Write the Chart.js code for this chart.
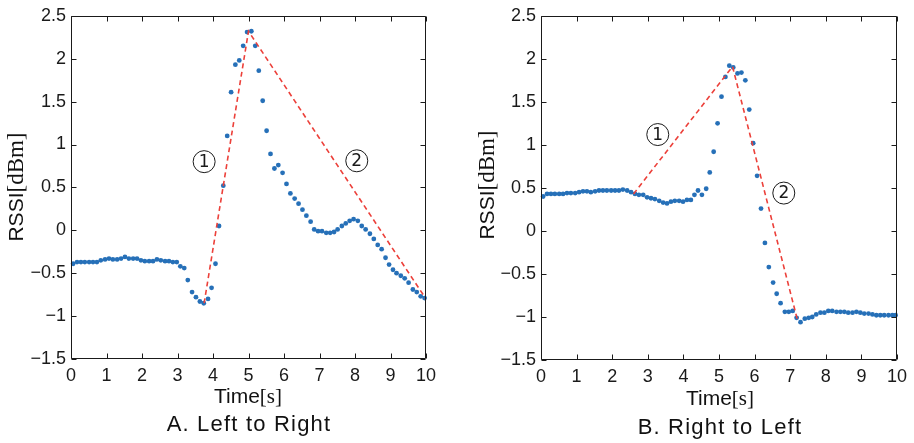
<!DOCTYPE html>
<html>
<head>
<meta charset="utf-8">
<script src="https://cdn.jsdelivr.net/npm/chart.js@4/dist/chart.umd.min.js"></script>
<style>
  html, body { margin: 0; padding: 0; background: #fff; }
  #wrap { position: relative; width: 914px; height: 443px; overflow: hidden; }
  canvas { position: absolute; top: 0; }
  .lbl { position: absolute; white-space: nowrap; color: #111; text-align: center; }
  .sans { font-family: 'Liberation Sans', Arial, sans-serif; }
  .serif { font-family: 'Liberation Serif', 'Times New Roman', serif; }
  .cap { font-family: 'Liberation Sans', Arial, sans-serif; font-size: 22px; letter-spacing: 1.2px; line-height: 22px; width: 300px; }
  .xt { font-size: 21px; line-height: 21px; width: 200px; }
  .yt { font-size: 21px; line-height: 24px; height: 24px; width: 200px; transform: rotate(-90deg); transform-origin: 50% 50%; }
</style>
</head>
<body>
<div id="wrap">
  <canvas id="cLeft" width="457" height="443" style="left:0px"></canvas>
  <canvas id="cRight" width="457" height="443" style="left:457px"></canvas>

  <div class="lbl yt" style="left:-84px; top:175px;"><span class="sans">RSSI</span><span class="serif" style="font-size:23px">[dBm]</span></div>
  <div class="lbl xt" style="left:148px; top:385px;"><span class="sans">Time</span><span class="serif">[s]</span></div>
  <div class="lbl cap" style="left:99px; top:413px;">A. Left to Right</div>

  <div class="lbl yt" style="left:387px; top:173px;"><span class="sans">RSSI</span><span class="serif" style="font-size:23px">[dBm]</span></div>
  <div class="lbl xt" style="left:620px; top:387px;"><span class="sans">Time</span><span class="serif">[s]</span></div>
  <div class="lbl cap" style="left:570px; top:416px;">B. Right to Left</div>
</div>
<script>
// ---- A. walking left to right ----
const leftTime = [0.06,0.17,0.28,0.39,0.51,0.62,0.73,0.84,0.96,1.07,
  1.18,1.30,1.41,1.52,1.63,1.75,1.86,1.97,2.08,2.20,
  2.31,2.42,2.53,2.65,2.76,2.87,2.98,3.08,3.19,3.29,
  3.41,3.52,3.63,3.74,3.86,3.96,4.07,4.17,4.29,4.40,
  4.51,4.63,4.74,4.85,4.96,5.08,5.19,5.29,5.40,5.51,
  5.62,5.73,5.84,5.96,6.07,6.18,6.30,6.41,6.52,6.63,
  6.75,6.85,6.96,7.07,7.19,7.30,7.41,7.51,7.63,7.74,
  7.85,7.96,8.08,8.19,8.30,8.42,8.53,8.64,8.75,8.86,
  8.96,9.07,9.17,9.29,9.40,9.51,9.63,9.74,9.85,9.96];
const leftRssi = [-0.39,-0.37,-0.37,-0.37,-0.37,-0.37,-0.37,-0.35,-0.34,-0.33,
  -0.34,-0.34,-0.33,-0.31,-0.33,-0.33,-0.33,-0.35,-0.36,-0.36,
  -0.36,-0.34,-0.35,-0.36,-0.36,-0.37,-0.37,-0.42,-0.44,-0.58,
  -0.72,-0.78,-0.83,-0.85,-0.80,-0.67,-0.39,0.05,0.52,1.10,
  1.61,1.93,1.98,2.15,2.31,2.32,2.15,1.86,1.51,1.16,
  0.89,0.72,0.76,0.67,0.54,0.43,0.37,0.31,0.24,0.17,
  0.10,0.01,-0.01,-0.01,-0.03,-0.03,-0.02,0.01,0.05,0.08,
  0.11,0.13,0.11,0.05,0.01,-0.04,-0.10,-0.17,-0.22,-0.32,
  -0.40,-0.46,-0.50,-0.53,-0.56,-0.61,-0.69,-0.72,-0.77,-0.79];
const leftTrendTime = [3.75, 5.0, 10.0];
const leftTrendRssi = [-0.85, 2.32, -0.80];
const leftTagTime = [3.75, 8.05];
const leftTagRssi = [0.80, 0.81];

// ---- B. walking right to left ----
const rightTime = [0.06,0.17,0.28,0.39,0.51,0.62,0.73,0.84,0.96,1.07,
  1.18,1.29,1.40,1.52,1.63,1.74,1.85,1.97,2.08,2.19,
  2.30,2.42,2.53,2.64,2.75,2.87,2.98,3.09,3.20,3.32,
  3.43,3.54,3.65,3.76,3.88,3.99,4.10,4.21,4.31,4.41,
  4.52,4.64,4.74,4.85,4.96,5.07,5.18,5.29,5.40,5.52,
  5.63,5.74,5.85,5.96,6.07,6.18,6.29,6.40,6.52,6.62,
  6.73,6.85,6.96,7.07,7.18,7.29,7.41,7.52,7.62,7.73,
  7.85,7.96,8.07,8.18,8.30,8.41,8.52,8.63,8.75,8.86,
  8.97,9.08,9.20,9.31,9.42,9.53,9.64,9.76,9.87,9.96];
const rightRssi = [0.40,0.43,0.43,0.43,0.43,0.43,0.44,0.44,0.44,0.45,
  0.46,0.46,0.45,0.46,0.47,0.47,0.47,0.47,0.47,0.47,
  0.48,0.47,0.45,0.43,0.42,0.42,0.39,0.38,0.37,0.35,
  0.33,0.32,0.34,0.35,0.35,0.34,0.36,0.36,0.42,0.47,
  0.42,0.49,0.68,0.92,1.25,1.56,1.79,1.92,1.90,1.83,
  1.84,1.75,1.41,1.02,0.64,0.26,-0.14,-0.42,-0.60,-0.73,
  -0.84,-0.94,-0.94,-0.93,-1.01,-1.06,-1.02,-1.01,-1.00,-0.97,
  -0.95,-0.95,-0.93,-0.93,-0.94,-0.94,-0.94,-0.95,-0.95,-0.94,
  -0.95,-0.96,-0.96,-0.97,-0.98,-0.98,-0.98,-0.98,-0.98,-0.98];
const rightTrendTime = [2.60, 5.38, 7.20];
const rightTrendRssi = [0.43, 1.91, -1.03];
const rightTagTime = [3.28, 6.82];
const rightTagRssi = [1.12, 0.44];

const tagText = ['1', '2'];
const xTickRange = [0, 10, 1];
const yTickRange = [-1.5, 2.5, 0.5];

const DOT = 'rgb(38,112,184)';
const TREND = 'rgb(236,64,58)';
const INK = '#1a1a1a';

Chart.defaults.font.family = "'Liberation Sans', Arial, sans-serif";
Chart.defaults.font.size = 18;
Chart.defaults.color = INK;

const zip = (xs, ys) => xs.map((x, i) => ({ x, y: ys[i] }));

// box around the plot with inward ticks on all four sides
const framePlugin = {
  id: 'frame',
  afterDatasetsDraw(chart) {
    const { ctx, chartArea: a, scales: { x, y } } = chart;
    const L = Math.round(a.left) + 0.5, R = Math.round(a.right) - 0.5;
    const T = Math.round(a.top) + 0.5, B = Math.round(a.bottom) - 0.5;
    const len = 5;
    ctx.save();
    ctx.strokeStyle = INK;
    ctx.lineWidth = 1;
    ctx.beginPath();
    ctx.rect(L, T, R - L, B - T);
    x.ticks.forEach(t => {
      const px = Math.round(x.getPixelForValue(t.value)) + 0.5;
      ctx.moveTo(px, B); ctx.lineTo(px, B - len);
      ctx.moveTo(px, T); ctx.lineTo(px, T + len);
    });
    y.ticks.forEach(t => {
      const py = Math.round(y.getPixelForValue(t.value)) + 0.5;
      ctx.moveTo(L, py); ctx.lineTo(L + len, py);
      ctx.moveTo(R, py); ctx.lineTo(R - len, py);
    });
    ctx.stroke();
    ctx.restore();
  }
};

// circled segment numbers
const tagPlugin = {
  id: 'tags',
  afterDraw(chart, args, opts) {
    const { ctx, scales: { x, y } } = chart;
    ctx.save();
    opts.xs.forEach((tx, i) => {
      const cx = x.getPixelForValue(tx), cy = y.getPixelForValue(opts.ys[i]);
      ctx.beginPath();
      ctx.arc(cx, cy, 11, 0, Math.PI * 2);
      ctx.strokeStyle = INK;
      ctx.lineWidth = 1;
      ctx.stroke();
      ctx.fillStyle = INK;
      ctx.font = "17px 'DejaVu Sans', sans-serif";
      ctx.textAlign = 'center';
      ctx.textBaseline = 'middle';
      ctx.fillText(opts.labels[i], cx, cy + 1);
    });
    ctx.restore();
  }
};

const fmtTick = v => {
  const s = String(Math.abs(Math.round(v * 10) / 10));
  return v < 0 ? '\u2212' + s : s;
};

function makeChart(id, times, rssi, trendT, trendR, tagT, tagR, box) {
  return new Chart(document.getElementById(id), {
    type: 'scatter',
    data: {
      datasets: [
        {
          data: zip(trendT, trendR),
          showLine: true,
          borderColor: TREND,
          borderWidth: 1.6,
          borderDash: [5, 3.5],
          pointRadius: 0,
          fill: false,
          order: 1
        },
        {
          data: zip(times, rssi),
          showLine: false,
          pointRadius: 2.4,
          pointBorderWidth: 0,
          backgroundColor: DOT,
          borderColor: DOT,
          clip: false,
          order: 2
        }
      ]
    },
    options: {
      responsive: false,
      animation: false,
      events: [],
      layout: { padding: { left: 0, top: box.top, right: box.right, bottom: 0 } },
      plugins: {
        legend: { display: false },
        tooltip: { enabled: false },
        tags: { xs: tagT, ys: tagR, labels: tagText }
      },
      scales: {
        x: {
          type: 'linear',
          min: xTickRange[0], max: xTickRange[1],
          grid: { display: false, drawTicks: false },
          border: { display: false },
          ticks: { stepSize: xTickRange[2], padding: 6, font: { size: 18 }, maxRotation: 0 },
          afterFit: s => { s.height = box.xh; }
        },
        y: {
          type: 'linear',
          min: yTickRange[0], max: yTickRange[1],
          grid: { display: false, drawTicks: false },
          border: { display: false },
          ticks: { stepSize: yTickRange[2], padding: 5, font: { size: 18 }, callback: fmtTick },
          afterFit: s => { s.width = box.yw; }
        }
      }
    },
    plugins: [framePlugin, tagPlugin]
  });
}

makeChart('cLeft', leftTime, leftRssi, leftTrendTime, leftTrendRssi, leftTagTime, leftTagRssi,
  { top: 13, right: 31, yw: 71, xh: 84 });
makeChart('cRight', rightTime, rightRssi, rightTrendTime, rightTrendRssi, rightTagTime, rightTagRssi,
  { top: 14, right: 17, yw: 84, xh: 83 });
</script>
</body>
</html>
